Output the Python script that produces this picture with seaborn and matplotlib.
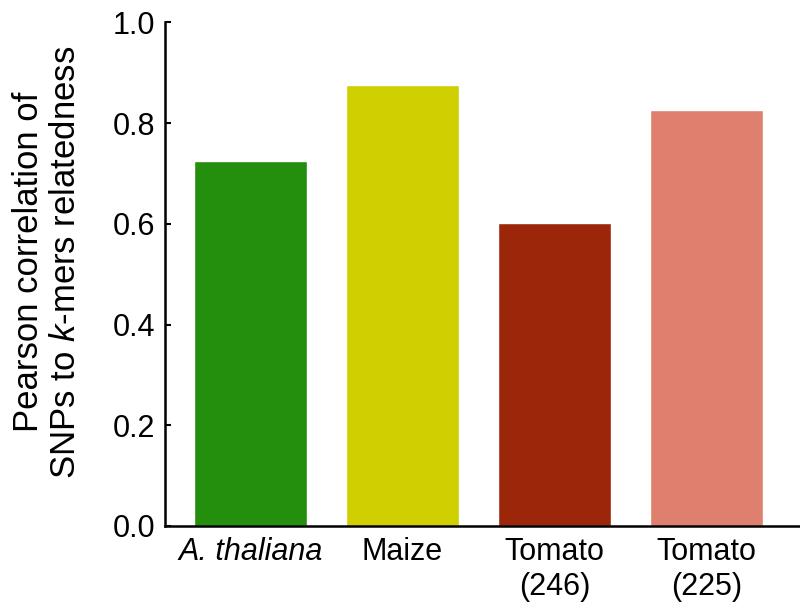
import matplotlib
matplotlib.use("Agg")
import matplotlib.pyplot as plt
import pandas as pd
import seaborn as sns

categories = ["A. thaliana", "Maize", "Tomato\n(246)", "Tomato\n(225)"]
correlations = [0.724, 0.875, 0.602, 0.826]
bar_colors = ["#248F0C", "#D0CF00", "#9C260A", "#DF7F6D"]
y_ticks = [0.0, 0.2, 0.4, 0.6, 0.8, 1.0]

sns.set_theme(style="white")
plt.rcParams["font.family"] = ["Liberation Sans", "DejaVu Sans"]
plt.rcParams["mathtext.fontset"] = "custom"
plt.rcParams["mathtext.rm"] = "Liberation Sans"
plt.rcParams["mathtext.it"] = "Liberation Sans:italic"

df = pd.DataFrame({"species": categories, "r": correlations})

fig = plt.figure(figsize=(8, 6.08), dpi=100)
ax = fig.add_axes([0.206, 0.135, 0.794, 0.828])
sns.barplot(data=df, x="species", y="r", hue="species", palette=bar_colors,
            width=0.743, saturation=1, legend=False, ax=ax)

ax.set_xlim(-0.5625, 3.615)
ax.set_ylim(0, 1.0)
ax.set_yticks(y_ticks)
ax.set_yticklabels([f"{t:.1f}" for t in y_ticks])
ax.set_xlabel("")
ax.set_ylabel("Pearson correlation of\nSNPs to $\\mathit{k}$-mers relatedness",
              fontsize=25, labelpad=22, linespacing=1.15, color="black")
ax.yaxis.label.set_y(0.524)

for side in ["top", "right"]:
    ax.spines[side].set_visible(False)
for side in ["left", "bottom"]:
    ax.spines[side].set_color("black")
    ax.spines[side].set_linewidth(1.8)

ax.tick_params(axis="y", direction="in", length=4.5, width=1.5, color="black",
               labelcolor="black", labelsize=22, pad=7, left=True)
ax.tick_params(axis="x", direction="in", length=8.5, width=1.5, color="black",
               labelcolor="black", labelsize=22, pad=8, bottom=True)
ax.get_xticklabels()[0].set_style("italic")

fig.savefig("out.png", dpi=100)
